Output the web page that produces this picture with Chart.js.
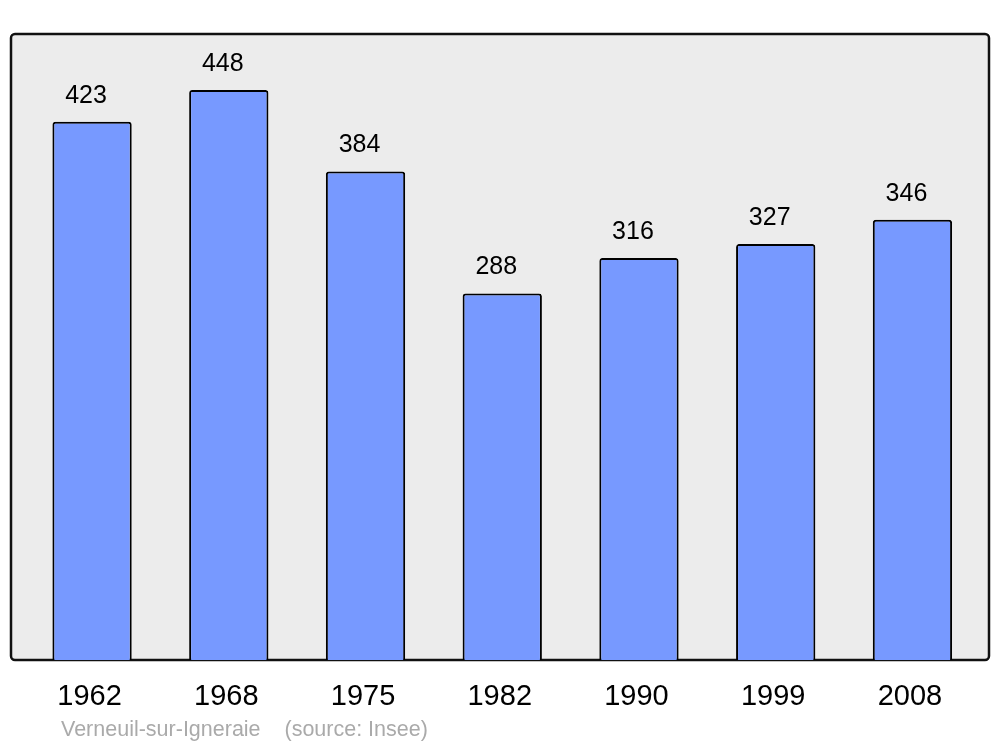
<!DOCTYPE html>
<html>
<head>
<meta charset="utf-8">
<script src="https://cdn.jsdelivr.net/npm/chart.js@4/dist/chart.umd.min.js"></script>
<style>
  html, body { margin: 0; padding: 0; background: #fff; }
  #wrap { width: 1000px; height: 747px; position: relative; }
</style>
</head>
<body>
<div id="wrap"><canvas id="myChart" width="1000" height="747"></canvas></div>
<script>
var years = ['1962', '1968', '1975', '1982', '1990', '1999', '2008'];
var population = [423, 448, 384, 288, 316, 327, 346];
var caption = 'Verneuil-sur-Igneraie    (source: Insee)';

// grey panel behind the bars, value labels and the caption
var panelPlugin = {
  id: 'panel',
  beforeDraw: function(chart) {
    var c = chart.ctx;
    c.save();
    c.fillStyle = '#ececec';
    c.strokeStyle = '#111';
    c.lineWidth = 2.5;
    c.beginPath();
    c.roundRect(11, 34, 978, 626, 4);
    c.fill();
    c.stroke();
    c.restore();
  },
  afterDatasetsDraw: function(chart) {
    var c = chart.ctx;
    var meta = chart.getDatasetMeta(0);
    c.save();
    c.font = '25px "Liberation Sans", Arial, sans-serif';
    c.fillStyle = '#000';
    c.textAlign = 'center';
    c.textBaseline = 'middle';
    meta.data.forEach(function(bar, i) {
      c.fillText(String(population[i]), bar.x - 6, bar.y - 26);
    });
    c.font = '21.5px "Liberation Sans", Arial, sans-serif';
    c.fillStyle = '#aaaaaa';
    c.textAlign = 'left';
    c.fillText(caption, 61, 730);
    c.restore();
  }
};

var ctx = document.getElementById('myChart').getContext('2d');
var myChart = new Chart(ctx, {
  type: 'bar',
  data: {
    labels: years,
    datasets: [{
      data: population,
      backgroundColor: '#7799ff',
      borderColor: '#000',
      borderWidth: 2,
      borderRadius: 3,
      borderSkipped: 'bottom',
      barPercentage: 0.58,
      categoryPercentage: 1
    }]
  },
  options: {
    responsive: false,
    animation: false,
    layout: { padding: { left: 23.7, right: 19.2, top: 34, bottom: 0 } },
    plugins: {
      legend: { display: false },
      tooltip: { enabled: false }
    },
    scales: {
      x: {
        grid: { display: false, drawTicks: false },
        border: { display: false },
        ticks: {
          color: '#000',
          padding: 20,
          labelOffset: -2.5,
          font: { family: '"Liberation Sans", Arial, sans-serif', size: 29 }
        },
        afterFit: function(scale) { scale.height = 87; }
      },
      y: {
        display: false,
        min: 0,
        max: 492
      }
    }
  },
  plugins: [panelPlugin]
});
</script>
</body>
</html>
